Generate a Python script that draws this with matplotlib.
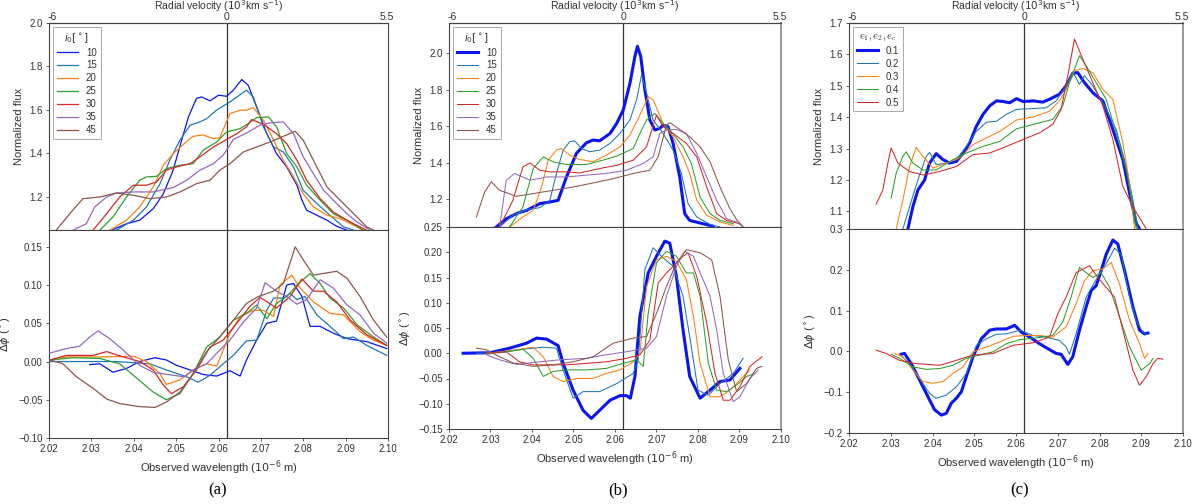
import numpy as np
import matplotlib.pyplot as plt

plt.rcParams['font.family'] = ['Liberation Sans', 'DejaVu Sans']
plt.rcParams['mathtext.fontset'] = 'dejavusans'

LAM0 = 2.062      # rest wavelength (10^-6 m), zero of the velocity axis
C_KMS = 3.0e5

labels_i0 = ['10', '15', '20', '25', '30', '35', '45']
labels_e = ['0.1', '0.2', '0.3', '0.4', '0.5']
vel_ticks = [-6, 0, 5.5]
wl_ticks = [2.02, 2.03, 2.04, 2.05, 2.06, 2.07, 2.08, 2.09, 2.10]

# ---------------- panel (a): normalized flux ----------------
a_flux_10 = [(2.0351, 1.05), (2.0383, 1.077), (2.0414, 1.093), (2.0446, 1.146), (2.047, 1.215),
             (2.0493, 1.323), (2.0513, 1.461), (2.0529, 1.568), (2.0548, 1.653), (2.056, 1.66),
             (2.058, 1.642), (2.06, 1.668), (2.0619, 1.663), (2.0635, 1.691), (2.0655, 1.74),
             (2.067, 1.714), (2.069, 1.614), (2.0714, 1.491), (2.0737, 1.399), (2.0761, 1.338),
             (2.0785, 1.254), (2.0797, 1.185), (2.0808, 1.139), (2.0832, 1.116), (2.0856, 1.093),
             (2.0879, 1.065), (2.0903, 1.047)]
a_flux_15 = [(2.0359, 1.047), (2.0399, 1.093), (2.043, 1.154), (2.0462, 1.261), (2.0485, 1.369),
             (2.0509, 1.461), (2.0533, 1.53), (2.0556, 1.545), (2.0572, 1.56), (2.0596, 1.6),
             (2.0627, 1.637), (2.0666, 1.691), (2.0682, 1.66), (2.0706, 1.522), (2.073, 1.43),
             (2.0753, 1.407), (2.0777, 1.338), (2.08, 1.23), (2.0832, 1.17), (2.0863, 1.116),
             (2.0895, 1.062), (2.0919, 1.047)]
a_flux_20 = [(2.0343, 1.047), (2.0383, 1.093), (2.0414, 1.154), (2.0446, 1.246), (2.047, 1.346),
             (2.0493, 1.399), (2.0517, 1.442), (2.054, 1.479), (2.0564, 1.485), (2.0588, 1.468),
             (2.0603, 1.473), (2.0627, 1.583), (2.0651, 1.599), (2.0666, 1.599), (2.0682, 1.611),
             (2.0706, 1.553), (2.073, 1.461), (2.0753, 1.369), (2.0777, 1.292), (2.08, 1.215),
             (2.0824, 1.154), (2.0856, 1.116), (2.0887, 1.1), (2.0919, 1.07), (2.0942, 1.047)]
a_flux_25 = [(2.032, 1.047), (2.0351, 1.108), (2.0383, 1.2), (2.0414, 1.277), (2.043, 1.292),
             (2.0454, 1.295), (2.0477, 1.33), (2.0509, 1.346), (2.054, 1.353), (2.0564, 1.415),
             (2.0596, 1.453), (2.0619, 1.499), (2.0651, 1.514), (2.067, 1.537), (2.069, 1.565),
             (2.0718, 1.568), (2.0737, 1.522), (2.0761, 1.399), (2.0785, 1.338), (2.0808, 1.254),
             (2.084, 1.185), (2.0871, 1.123), (2.0903, 1.093), (2.0942, 1.047)]
a_flux_30 = [(2.0304, 1.047), (2.0336, 1.123), (2.0367, 1.2), (2.0399, 1.254), (2.043, 1.254),
             (2.0454, 1.269), (2.0477, 1.323), (2.0501, 1.338), (2.0533, 1.353), (2.0556, 1.384),
             (2.0588, 1.43), (2.0619, 1.464), (2.0643, 1.491), (2.0666, 1.522), (2.0678, 1.556),
             (2.0706, 1.534), (2.0737, 1.491), (2.0761, 1.445), (2.0785, 1.369), (2.0808, 1.277),
             (2.084, 1.192), (2.0871, 1.131), (2.091, 1.085), (2.095, 1.047)]
a_flux_35 = [(2.0257, 1.047), (2.0288, 1.077), (2.0308, 1.154), (2.0336, 1.2), (2.0359, 1.218),
             (2.0399, 1.223), (2.0446, 1.223), (2.0493, 1.243), (2.0525, 1.277), (2.0556, 1.323),
             (2.0588, 1.353), (2.0611, 1.392), (2.0635, 1.464), (2.0666, 1.494), (2.0698, 1.53),
             (2.0722, 1.541), (2.0753, 1.545), (2.0777, 1.491), (2.08, 1.384), (2.0824, 1.307),
             (2.0848, 1.231), (2.0871, 1.185), (2.0903, 1.123), (2.0927, 1.085), (2.0958, 1.047)]
a_flux_45 = [(2.0217, 1.047), (2.0249, 1.123), (2.028, 1.192), (2.032, 1.2), (2.0359, 1.218),
             (2.0399, 1.208), (2.0438, 1.192), (2.0477, 1.2), (2.0509, 1.223), (2.0548, 1.261),
             (2.058, 1.277), (2.0603, 1.323), (2.0627, 1.353), (2.0659, 1.407), (2.069, 1.43),
             (2.0722, 1.453), (2.0753, 1.479), (2.0781, 1.502), (2.08, 1.461), (2.0824, 1.369),
             (2.0856, 1.246), (2.0887, 1.185), (2.0919, 1.123), (2.095, 1.062), (2.0966, 1.047)]

# ---------------- panel (a): differential phase ----------------
a_dphi_10 = [(2.0296, -0.004), (2.032, -0.003), (2.0351, -0.014), (2.0383, -0.009), (2.0414, 0.0),
             (2.045, 0.005), (2.0477, 0.002), (2.0501, -0.005), (2.0533, -0.011), (2.0564, -0.017),
             (2.0596, -0.019), (2.0627, -0.012), (2.0651, -0.019), (2.0666, 0.002), (2.069, 0.028),
             (2.0714, 0.05), (2.0737, 0.053), (2.0761, 0.1), (2.0777, 0.102), (2.0797, 0.085),
             (2.0816, 0.046), (2.084, 0.046), (2.0871, 0.037), (2.0903, 0.03), (2.095, 0.026),
             (2.0997, 0.017)]
a_dphi_15 = [(2.0202, 0.0), (2.028, 0.0), (2.0359, 0.0), (2.0438, -0.003), (2.0477, -0.011),
             (2.0525, -0.02), (2.0552, -0.027), (2.058, -0.018), (2.0611, -0.003), (2.0635, 0.008),
             (2.0666, 0.027), (2.069, 0.028), (2.0714, 0.067), (2.073, 0.083), (2.0753, 0.083),
             (2.0769, 0.089), (2.0785, 0.081), (2.0804, 0.085), (2.0832, 0.061), (2.0863, 0.046),
             (2.0895, 0.03), (2.0919, 0.032), (2.095, 0.021), (2.0997, 0.008)]
a_dphi_20 = [(2.0202, 0.002), (2.0241, 0.006), (2.032, 0.006), (2.0399, 0.007), (2.043, 0.0),
             (2.0462, -0.016), (2.0477, -0.03), (2.0509, -0.024), (2.054, -0.011), (2.0572, -0.003),
             (2.0596, -0.006), (2.0627, 0.037), (2.0651, 0.059), (2.0682, 0.067), (2.0706, 0.067),
             (2.073, 0.059), (2.0745, 0.1), (2.0773, 0.113), (2.0793, 0.096), (2.0824, 0.078),
             (2.0863, 0.063), (2.0895, 0.061), (2.0934, 0.039), (2.0966, 0.028), (2.0997, 0.021)]
a_dphi_25 = [(2.0202, 0.002), (2.0257, 0.005), (2.032, 0.004), (2.0367, -0.003), (2.0414, -0.025),
             (2.0446, -0.04), (2.0477, -0.05), (2.0509, -0.042), (2.054, -0.016), (2.0572, 0.019),
             (2.0603, 0.032), (2.0635, 0.054), (2.0666, 0.063), (2.069, 0.074), (2.0714, 0.056),
             (2.0737, 0.076), (2.0761, 0.085), (2.0789, 0.102), (2.0816, 0.115), (2.084, 0.102),
             (2.0863, 0.083), (2.0895, 0.07), (2.0927, 0.048), (2.0966, 0.032), (2.0997, 0.021)]
a_dphi_30 = [(2.0202, 0.002), (2.0241, 0.008), (2.0304, 0.008), (2.0336, 0.013), (2.0375, 0.006),
             (2.0414, 0.0), (2.0446, -0.011), (2.047, -0.031), (2.0489, -0.042), (2.0517, -0.033),
             (2.0548, -0.011), (2.058, 0.019), (2.0611, 0.028), (2.0643, 0.05), (2.0674, 0.072),
             (2.0698, 0.084), (2.0737, 0.07), (2.0769, 0.085), (2.0797, 0.108), (2.0824, 0.092),
             (2.0848, 0.092), (2.0879, 0.078), (2.0911, 0.054), (2.095, 0.035), (2.0997, 0.021)]
a_dphi_35 = [(2.0202, 0.011), (2.0241, 0.017), (2.0272, 0.02), (2.0296, 0.032), (2.0316, 0.04),
             (2.0343, 0.03), (2.0375, 0.015), (2.0414, -0.005), (2.0446, -0.014), (2.0493, -0.018),
             (2.052, -0.02), (2.054, -0.011), (2.0572, -0.003), (2.0596, 0.011), (2.0627, 0.028),
             (2.0659, 0.052), (2.069, 0.07), (2.071, 0.103), (2.0737, 0.092), (2.0761, 0.085),
             (2.0785, 0.075), (2.0808, 0.081), (2.084, 0.107), (2.0871, 0.096), (2.0903, 0.074),
             (2.0934, 0.061), (2.0966, 0.037), (2.0997, 0.024)]
a_dphi_45 = [(2.0202, 0.002), (2.0233, -0.003), (2.0265, -0.02), (2.0304, -0.035), (2.0336, -0.049),
             (2.0367, -0.055), (2.0414, -0.059), (2.045, -0.06), (2.0477, -0.053), (2.0509, -0.04),
             (2.054, -0.016), (2.0572, 0.013), (2.0603, 0.032), (2.0635, 0.054), (2.0666, 0.076),
             (2.0694, 0.085), (2.073, 0.092), (2.0753, 0.102), (2.0781, 0.15), (2.08, 0.133),
             (2.0824, 0.113), (2.0856, 0.116), (2.0879, 0.118), (2.0903, 0.109), (2.0934, 0.085),
             (2.0966, 0.054), (2.0997, 0.032)]

# ---------------- panel (b): normalized flux ----------------
b_flux_10 = [(2.0314, 1.048), (2.0338, 1.093), (2.0366, 1.125), (2.0387, 1.139), (2.0419, 1.176),
             (2.0443, 1.185), (2.0463, 1.194), (2.0483, 1.322), (2.0507, 1.451), (2.0531, 1.509),
             (2.0547, 1.524), (2.0563, 1.52), (2.0588, 1.56), (2.0604, 1.615), (2.062, 1.689),
             (2.0636, 1.835), (2.0648, 1.982), (2.0654, 2.037), (2.0662, 1.982), (2.0672, 1.8),
             (2.0684, 1.634), (2.0696, 1.579), (2.0708, 1.588), (2.0716, 1.606), (2.0728, 1.597),
             (2.074, 1.506), (2.0756, 1.322), (2.0768, 1.121), (2.078, 1.084), (2.0805, 1.07),
             (2.0837, 1.052)]
b_flux_15 = [(2.0322, 1.048), (2.0354, 1.112), (2.0387, 1.143), (2.0419, 1.154), (2.0443, 1.194),
             (2.0459, 1.341), (2.0475, 1.469), (2.0491, 1.515), (2.0503, 1.52), (2.0519, 1.478),
             (2.0539, 1.46), (2.0563, 1.469), (2.0588, 1.506), (2.0612, 1.56), (2.0636, 1.634),
             (2.0652, 1.744), (2.0664, 1.881), (2.0672, 1.817), (2.068, 1.744), (2.0692, 1.634),
             (2.0716, 1.56), (2.074, 1.469), (2.076, 1.341), (2.0776, 1.176), (2.0797, 1.103),
             (2.0829, 1.062), (2.0853, 1.048)]
b_flux_20 = [(2.0346, 1.048), (2.0378, 1.103), (2.0403, 1.139), (2.0423, 1.267), (2.0439, 1.414),
             (2.0459, 1.469), (2.0471, 1.478), (2.0491, 1.441), (2.0515, 1.418), (2.0547, 1.405),
             (2.0579, 1.441), (2.0612, 1.487), (2.0636, 1.551), (2.066, 1.661), (2.068, 1.762),
             (2.0692, 1.744), (2.0716, 1.615), (2.074, 1.542), (2.0764, 1.432), (2.078, 1.341),
             (2.0797, 1.194), (2.0821, 1.112), (2.0853, 1.075), (2.0885, 1.057)]
b_flux_25 = [(2.0346, 1.048), (2.0378, 1.158), (2.0403, 1.368), (2.0427, 1.432), (2.0451, 1.405),
             (2.0483, 1.39), (2.0531, 1.39), (2.0571, 1.414), (2.0604, 1.436), (2.0644, 1.478),
             (2.066, 1.56), (2.0676, 1.634), (2.0696, 1.67), (2.0716, 1.615), (2.0732, 1.579),
             (2.0764, 1.487), (2.0784, 1.396), (2.0805, 1.212), (2.0829, 1.121), (2.0853, 1.084),
             (2.0885, 1.066)]
b_flux_30 = [(2.0322, 1.048), (2.0354, 1.194), (2.0378, 1.377), (2.0395, 1.399), (2.0419, 1.359),
             (2.0443, 1.35), (2.0483, 1.35), (2.0515, 1.344), (2.0563, 1.368), (2.0604, 1.386),
             (2.0644, 1.414), (2.0676, 1.487), (2.07, 1.661), (2.0716, 1.597), (2.074, 1.56),
             (2.0772, 1.506), (2.0797, 1.432), (2.0821, 1.267), (2.0845, 1.121), (2.0869, 1.084),
             (2.0901, 1.066)]
b_flux_35 = [(2.0322, 1.048), (2.0338, 1.304), (2.0358, 1.341), (2.0395, 1.304), (2.0435, 1.322),
             (2.0483, 1.322), (2.0531, 1.332), (2.0579, 1.341), (2.0628, 1.359), (2.0668, 1.396),
             (2.0692, 1.432), (2.0708, 1.56), (2.0724, 1.579), (2.0748, 1.582), (2.0772, 1.56),
             (2.0797, 1.451), (2.0821, 1.322), (2.0845, 1.194), (2.0869, 1.093), (2.0893, 1.075),
             (2.0909, 1.048)]
b_flux_45 = [(2.0266, 1.103), (2.0286, 1.24), (2.0302, 1.295), (2.0322, 1.249), (2.0362, 1.216),
             (2.0403, 1.231), (2.0451, 1.249), (2.0499, 1.267), (2.0547, 1.289), (2.0596, 1.313),
             (2.0644, 1.341), (2.0684, 1.359), (2.0704, 1.432), (2.0724, 1.606), (2.0732, 1.619),
             (2.0756, 1.582), (2.078, 1.542), (2.0805, 1.487), (2.0829, 1.405), (2.0853, 1.267),
             (2.0877, 1.148), (2.0893, 1.088), (2.0909, 1.048)]

# ---------------- panel (b): differential phase ----------------
b_dphi_10 = [(2.0234, 0.0), (2.0298, 0.001), (2.0346, 0.01), (2.0387, 0.02), (2.0411, 0.03),
             (2.0435, 0.028), (2.0463, 0.015), (2.0475, -0.02), (2.0499, -0.073), (2.0523, -0.113),
             (2.0543, -0.129), (2.0563, -0.113), (2.0588, -0.093), (2.0612, -0.084), (2.0628, -0.084),
             (2.0637, -0.089), (2.0648, -0.046), (2.066, 0.073), (2.068, 0.159), (2.07, 0.192),
             (2.072, 0.222), (2.0732, 0.218), (2.0748, 0.152), (2.0764, 0.046), (2.078, -0.046),
             (2.0805, -0.089), (2.0829, -0.073), (2.0853, -0.056), (2.0877, -0.053), (2.0901, -0.03)]
b_dphi_15 = [(2.0266, 0.0), (2.0322, 0.001), (2.0378, 0.008), (2.0427, 0.012), (2.0459, 0.01),
             (2.0475, -0.033), (2.0499, -0.089), (2.0523, -0.076), (2.0563, -0.076), (2.0604, -0.06),
             (2.0644, -0.04), (2.0656, -0.013), (2.0672, 0.166), (2.0692, 0.209), (2.0712, 0.192),
             (2.074, 0.172), (2.0764, 0.113), (2.0784, 0.013), (2.08, -0.073), (2.0825, -0.083),
             (2.0853, -0.06), (2.0885, -0.04), (2.0909, -0.01)]
b_dphi_20 = [(2.029, 0.0), (2.0346, 0.005), (2.0403, 0.012), (2.0427, -0.007), (2.0451, -0.046),
             (2.0475, -0.056), (2.0507, -0.05), (2.0547, -0.05), (2.0579, -0.04), (2.0612, -0.033),
             (2.0644, -0.017), (2.066, 0.0), (2.0676, 0.132), (2.07, 0.185), (2.0724, 0.192),
             (2.0748, 0.182), (2.0772, 0.146), (2.0789, 0.073), (2.0805, -0.02), (2.0829, -0.086),
             (2.0853, -0.086), (2.0877, -0.073), (2.0901, -0.053), (2.0925, -0.033)]
b_dphi_25 = [(2.029, 0.0), (2.0338, 0.003), (2.0378, 0.008), (2.0403, -0.01), (2.0427, -0.046),
             (2.0451, -0.036), (2.0483, -0.033), (2.0531, -0.033), (2.0579, -0.03), (2.062, -0.02),
             (2.0652, -0.013), (2.0668, -0.026), (2.068, 0.079), (2.07, 0.179), (2.0724, 0.202),
             (2.0748, 0.192), (2.0772, 0.159), (2.0789, 0.159), (2.0805, 0.113), (2.0825, -0.02),
             (2.0845, -0.073), (2.0869, -0.076), (2.0893, -0.063), (2.0917, -0.046), (2.0937, -0.04)]
b_dphi_30 = [(2.029, 0.0), (2.0338, 0.003), (2.037, -0.017), (2.0403, -0.023), (2.0443, -0.023),
             (2.0483, -0.023), (2.0531, -0.02), (2.0579, -0.017), (2.0628, -0.01), (2.066, -0.003),
             (2.0684, 0.026), (2.0704, 0.139), (2.0724, 0.159), (2.0748, 0.179), (2.0764, 0.192),
             (2.0776, 0.199), (2.0797, 0.152), (2.0821, 0.06), (2.0841, -0.04), (2.0861, -0.093),
             (2.0877, -0.093), (2.0901, -0.066), (2.0925, -0.026), (2.0954, -0.007)]
b_dphi_35 = [(2.029, -0.003), (2.0322, -0.013), (2.0362, -0.022), (2.0419, -0.017), (2.0467, -0.013),
             (2.0531, -0.01), (2.0579, -0.003), (2.0628, 0.003), (2.0676, 0.01), (2.07, 0.033),
             (2.0724, 0.113), (2.0748, 0.172), (2.0768, 0.202), (2.0789, 0.192), (2.0809, 0.152),
             (2.0829, 0.113), (2.0845, 0.046), (2.0861, -0.04), (2.0885, -0.096), (2.0901, -0.086),
             (2.0925, -0.05), (2.0945, -0.033)]
b_dphi_45 = [(2.0266, 0.01), (2.029, 0.007), (2.0322, -0.007), (2.0354, -0.019), (2.0403, -0.026),
             (2.0451, -0.023), (2.0499, -0.017), (2.0547, -0.007), (2.0596, 0.02), (2.0644, 0.03),
             (2.0676, 0.033), (2.07, 0.079), (2.0724, 0.132), (2.0748, 0.179), (2.0772, 0.205),
             (2.0805, 0.199), (2.0833, 0.185), (2.0853, 0.113), (2.0873, -0.013), (2.0893, -0.076),
             (2.0917, -0.06), (2.0941, -0.03), (2.0954, -0.026)]

# ---------------- panel (c): normalized flux ----------------
c_flux_01 = [(2.0341, 1.044), (2.0353, 1.115), (2.0365, 1.168), (2.0381, 1.2), (2.0393, 1.254),
             (2.0409, 1.284), (2.0425, 1.265), (2.0441, 1.254), (2.0457, 1.259), (2.0473, 1.284),
             (2.0489, 1.318), (2.0505, 1.371), (2.0521, 1.409), (2.0537, 1.436), (2.0553, 1.452),
             (2.0569, 1.45), (2.0585, 1.446), (2.0601, 1.459), (2.0617, 1.45), (2.0641, 1.452),
             (2.0664, 1.448), (2.068, 1.457), (2.0704, 1.473), (2.072, 1.5), (2.0736, 1.54),
             (2.0748, 1.542), (2.0764, 1.51), (2.0784, 1.478), (2.0808, 1.452), (2.0832, 1.361),
             (2.0856, 1.265), (2.0872, 1.158), (2.0888, 1.062), (2.0896, 1.044)]
c_flux_02 = [(2.0329, 1.044), (2.0345, 1.115), (2.0365, 1.2), (2.0385, 1.275), (2.0393, 1.288),
             (2.0409, 1.249), (2.0433, 1.254), (2.0457, 1.265), (2.0481, 1.307), (2.0505, 1.355),
             (2.0529, 1.384), (2.0553, 1.387), (2.0577, 1.409), (2.0601, 1.425), (2.0633, 1.427),
             (2.0672, 1.43), (2.0696, 1.452), (2.072, 1.5), (2.0736, 1.544), (2.0752, 1.505),
             (2.0764, 1.532), (2.0784, 1.5), (2.0808, 1.446), (2.084, 1.361), (2.0864, 1.243),
             (2.088, 1.136), (2.0892, 1.044)]
c_flux_03 = [(2.0313, 1.044), (2.0329, 1.136), (2.0345, 1.243), (2.0361, 1.304), (2.0377, 1.275),
             (2.0401, 1.238), (2.0433, 1.254), (2.0465, 1.27), (2.0497, 1.313), (2.0529, 1.334),
             (2.0561, 1.355), (2.0601, 1.391), (2.0641, 1.401), (2.068, 1.419), (2.0704, 1.452),
             (2.072, 1.489), (2.074, 1.548), (2.076, 1.555), (2.0784, 1.542), (2.0808, 1.489),
             (2.0832, 1.457), (2.0856, 1.318), (2.0872, 1.19), (2.0884, 1.044)]
c_flux_04 = [(2.0301, 1.142), (2.0313, 1.222), (2.0329, 1.275), (2.0337, 1.29), (2.0353, 1.254),
             (2.0377, 1.232), (2.0409, 1.232), (2.0449, 1.265), (2.0481, 1.286), (2.0521, 1.307),
             (2.0561, 1.323), (2.0601, 1.363), (2.0641, 1.377), (2.0688, 1.393), (2.0712, 1.436),
             (2.0728, 1.51), (2.0752, 1.596), (2.0768, 1.564), (2.0792, 1.51), (2.0816, 1.457),
             (2.084, 1.35), (2.0864, 1.232), (2.088, 1.115), (2.0888, 1.044)]
c_flux_05 = [(2.0265, 1.123), (2.0281, 1.168), (2.0293, 1.254), (2.0301, 1.302), (2.0317, 1.254),
             (2.0345, 1.227), (2.0377, 1.216), (2.0417, 1.227), (2.0457, 1.243), (2.0497, 1.281),
             (2.0537, 1.286), (2.0577, 1.307), (2.0617, 1.329), (2.0656, 1.35), (2.0688, 1.377),
             (2.0708, 1.425), (2.0724, 1.532), (2.074, 1.649), (2.076, 1.585), (2.0784, 1.51),
             (2.0808, 1.436), (2.0832, 1.329), (2.0856, 1.179), (2.088, 1.115), (2.0904, 1.062),
             (2.0912, 1.044)]

# ---------------- panel (c): differential phase ----------------
c_dphi_01 = [(2.0325, -0.007), (2.0333, -0.005), (2.0349, -0.03), (2.0369, -0.07), (2.0389, -0.111),
             (2.0405, -0.143), (2.0421, -0.156), (2.0433, -0.152), (2.0445, -0.127), (2.0457, -0.115),
             (2.0469, -0.099), (2.0481, -0.062), (2.0497, -0.013), (2.0517, 0.031), (2.0537, 0.052),
             (2.0553, 0.055), (2.0577, 0.055), (2.0597, 0.064), (2.0613, 0.047), (2.0633, 0.035),
             (2.0656, 0.019), (2.0676, 0.007), (2.0696, -0.005), (2.0708, -0.007), (2.0724, -0.032),
             (2.0736, -0.013), (2.0752, 0.052), (2.0768, 0.109), (2.078, 0.149), (2.0792, 0.161),
             (2.0804, 0.198), (2.0816, 0.238), (2.0832, 0.273), (2.0844, 0.263), (2.086, 0.198),
             (2.088, 0.109), (2.0896, 0.052), (2.0908, 0.043), (2.0916, 0.045)]
c_dphi_02 = [(2.0321, -0.007), (2.0345, -0.03), (2.0369, -0.066), (2.0393, -0.103), (2.0409, -0.115),
             (2.0433, -0.107), (2.0457, -0.087), (2.0481, -0.054), (2.0505, 0.015), (2.0529, 0.031),
             (2.0553, 0.042), (2.0577, 0.043), (2.061, 0.052), (2.0641, 0.039), (2.0672, 0.035),
             (2.0704, 0.027), (2.072, 0.011), (2.0728, -0.007), (2.0744, 0.043), (2.0768, 0.133),
             (2.0788, 0.169), (2.08, 0.19), (2.082, 0.222), (2.0836, 0.253), (2.0852, 0.238),
             (2.0872, 0.133), (2.0888, 0.076), (2.0904, 0.047), (2.0912, 0.043)]
c_dphi_03 = [(2.0309, -0.005), (2.0329, -0.013), (2.0353, -0.046), (2.0377, -0.074), (2.0401, -0.078),
             (2.0425, -0.074), (2.0449, -0.054), (2.0473, -0.038), (2.0497, -0.001), (2.0529, 0.011),
             (2.0561, 0.023), (2.0593, 0.037), (2.0625, 0.039), (2.0656, 0.039), (2.0688, 0.035),
             (2.072, 0.06), (2.0744, 0.117), (2.0764, 0.173), (2.0784, 0.198), (2.0808, 0.202),
             (2.0828, 0.218), (2.0848, 0.165), (2.0872, 0.076), (2.0896, 0.019), (2.0908, -0.017),
             (2.0916, -0.005)]
c_dphi_04 = [(2.0301, -0.007), (2.0321, -0.017), (2.0353, -0.038), (2.0385, -0.044), (2.0417, -0.042),
             (2.0449, -0.034), (2.0481, -0.017), (2.0513, -0.009), (2.0545, -0.001), (2.0577, 0.019),
             (2.061, 0.029), (2.0656, 0.034), (2.0688, 0.039), (2.0712, 0.072), (2.0732, 0.133),
             (2.0752, 0.206), (2.0768, 0.193), (2.0784, 0.181), (2.0804, 0.193), (2.0824, 0.157),
             (2.0848, 0.084), (2.0872, 0.011), (2.09, -0.046), (2.092, -0.03), (2.0928, -0.017)]
c_dphi_05 = [(2.0265, 0.003), (2.0289, -0.005), (2.0321, -0.022), (2.0361, -0.03), (2.0417, -0.034),
             (2.0457, -0.022), (2.0497, -0.009), (2.0545, -0.005), (2.0593, 0.015), (2.0641, 0.021),
             (2.068, 0.035), (2.07, 0.092), (2.072, 0.133), (2.0744, 0.193), (2.0776, 0.21),
             (2.0796, 0.181), (2.0816, 0.157), (2.0836, 0.133), (2.0856, 0.052), (2.088, -0.046),
             (2.0896, -0.083), (2.0912, -0.062), (2.0928, -0.03), (2.094, -0.017), (2.0952, -0.019)]

a_flux = [a_flux_10, a_flux_15, a_flux_20, a_flux_25, a_flux_30, a_flux_35, a_flux_45]
a_dphi = [a_dphi_10, a_dphi_15, a_dphi_20, a_dphi_25, a_dphi_30, a_dphi_35, a_dphi_45]
b_flux = [b_flux_10, b_flux_15, b_flux_20, b_flux_25, b_flux_30, b_flux_35, b_flux_45]
b_dphi = [b_dphi_10, b_dphi_15, b_dphi_20, b_dphi_25, b_dphi_30, b_dphi_35, b_dphi_45]
c_flux = [c_flux_01, c_flux_02, c_flux_03, c_flux_04, c_flux_05]
c_dphi = [c_dphi_01, c_dphi_02, c_dphi_03, c_dphi_04, c_dphi_05]

# ---------------- styling ----------------
colors = ['#0a14f5', '#1f77b4', '#ff7f0e', '#2ca02c', '#d62728', '#9467bd', '#8c564b']
W, H = 1200, 504
SPINE = '#444444'
TXT = '#333333'
TICKFS = 7
LABFS = 8

fig = plt.figure(figsize=(W / 100, H / 100), dpi=100)


def make_panel(left, right, top, mid, bottom):
    ax_t = fig.add_axes([left / W, 1 - mid / H, (right - left) / W, (mid - top) / H])
    ax_b = fig.add_axes([left / W, 1 - bottom / H, (right - left) / W, (bottom - mid) / H])
    for ax in (ax_t, ax_b):
        for s in ax.spines.values():
            s.set_color(SPINE)
            s.set_linewidth(0.8)
        ax.tick_params(direction='out', length=2.5, width=0.6, colors=SPINE,
                       labelsize=TICKFS, labelcolor=TXT, pad=2)
        ax.set_xlim(2.02, 2.10)
        ax.axvline(LAM0, color=TXT, lw=0.9, zorder=1)
    ax_t.tick_params(axis='x', bottom=False, labelbottom=False)
    ax_b.set_xticks(wl_ticks)
    ax_b.set_xticklabels(['%.2f' % t for t in wl_ticks])
    ax_b.set_xlabel(r'Observed wavelength ($10^{-6}$ m)', fontsize=LABFS, color=TXT, labelpad=3)
    ax_t.set_ylabel('Normalized flux', fontsize=LABFS, color=TXT)
    ax_b.set_ylabel(r'$\Delta\phi$ ($^\circ$)', fontsize=LABFS, color=TXT)

    # velocity scale on top of the flux panel
    sec = ax_t.secondary_xaxis('top', functions=(lambda l: (l / LAM0 - 1) * C_KMS / 1e3,
                                                   lambda v: LAM0 * (1 + v * 1e3 / C_KMS)))
    sec.set_xticks(vel_ticks)
    sec.set_xticklabels(['-6', '0', '5.5'])
    sec.tick_params(length=0, labelsize=TICKFS + 0.5, labelcolor=TXT, pad=1)
    fig.text((left + right) / 2 / W, 1 - 6 / H, r'Radial velocity ($10^3$km s$^{-1}$)',
             ha='center', va='center', fontsize=7.5, color=TXT)
    return ax_t, ax_b


def draw(ax, curves, widths, cols, labels=None):
    for k, pts in enumerate(curves):
        arr = np.array(pts)
        ax.plot(arr[:, 0], arr[:, 1], color=cols[k], lw=widths[k],
                label=None if labels is None else labels[k], zorder=3)


def add_legend(ax, title, cm=False):
    leg = ax.legend(loc='upper left', title=title, fontsize=7, title_fontsize=7.5,
                    labelspacing=0.3, handlelength=2.2, handletextpad=0.8,
                    borderpad=0.4, fancybox=False, framealpha=1, edgecolor='#aaaaaa',
                    borderaxespad=0.4)
    leg.get_frame().set_linewidth(0.7)
    leg.get_title().set_color(TXT)
    if cm:
        leg.get_title().set_math_fontfamily('cm')
    for t in leg.get_texts():
        t.set_color(TXT)


# panel (a)
axa_t, axa_b = make_panel(49, 388, 23, 230, 438)
wa = [0.9] * 7
draw(axa_t, a_flux, wa, colors, labels_i0)
draw(axa_b, a_dphi, wa, colors)
axa_t.set_ylim(1.048, 2.0)
axa_t.set_yticks([1.2, 1.4, 1.6, 1.8, 2.0])
axa_t.set_yticklabels(['1.2', '1.4', '1.6', '1.8', '2.0'])
axa_b.set_ylim(-0.10, 0.172)
axa_b.set_yticks([-0.10, -0.05, 0.0, 0.05, 0.10, 0.15])
axa_b.set_yticklabels(['\u22120.10', '\u22120.05', '0.00', '0.05', '0.10', '0.15'])
add_legend(axa_t, r'$i_0[^\circ]$')

# panel (b)
axb_t, axb_b = make_panel(449, 781, 23, 227, 429)
wb = [2.2] + [0.75] * 6
draw(axb_t, b_flux, wb, colors, labels_i0)
draw(axb_b, b_dphi, wb, colors)
axb_t.set_ylim(1.048, 2.165)
axb_t.set_yticks([1.2, 1.4, 1.6, 1.8, 2.0])
axb_t.set_yticklabels(['1.2', '1.4', '1.6', '1.8', '2.0'])
axb_b.set_ylim(-0.15, 0.25)
axb_b.set_yticks([-0.15, -0.10, -0.05, 0.0, 0.05, 0.10, 0.15, 0.20, 0.25])
axb_b.set_yticklabels(['\u22120.15', '\u22120.10', '\u22120.05', '0.00', '0.05', '0.10',
                       '0.15', '0.20', '0.25'])
add_legend(axb_t, r'$i_0[^\circ]$')

# panel (c)
axc_t, axc_b = make_panel(849, 1183, 23, 229, 433)
wc = [2.2] + [0.75] * 4
draw(axc_t, c_flux, wc, colors[:5], labels_e)
draw(axc_b, c_dphi, wc, colors[:5])
axc_t.set_ylim(1.044, 1.70)
axc_t.set_yticks([1.1, 1.2, 1.3, 1.4, 1.5, 1.6, 1.7])
axc_t.set_yticklabels(['1.1', '1.2', '1.3', '1.4', '1.5', '1.6', '1.7'])
axc_b.set_ylim(-0.2, 0.3)
axc_b.set_yticks([-0.2, -0.1, 0.0, 0.1, 0.2, 0.3])
axc_b.set_yticklabels(['\u22120.2', '\u22120.1', '0.0', '0.1', '0.2', '0.3'])
add_legend(axc_t, r'$e_1, e_2, e_c$', cm=True)

for ax in (axb_t, axb_b, axc_t, axc_b):
    ax.spines['right'].set_color('#999999')
    ax.spines['right'].set_linewidth(1.4)

for x, s in [(218, '(a)'), (618, '(b)'), (1020, '(c)')]:
    fig.text(x / W, 1 - 490 / H, s, ha='center', va='center', fontsize=12,
             family=['Liberation Serif', 'DejaVu Serif'])

fig.savefig('out.png', dpi=100)
